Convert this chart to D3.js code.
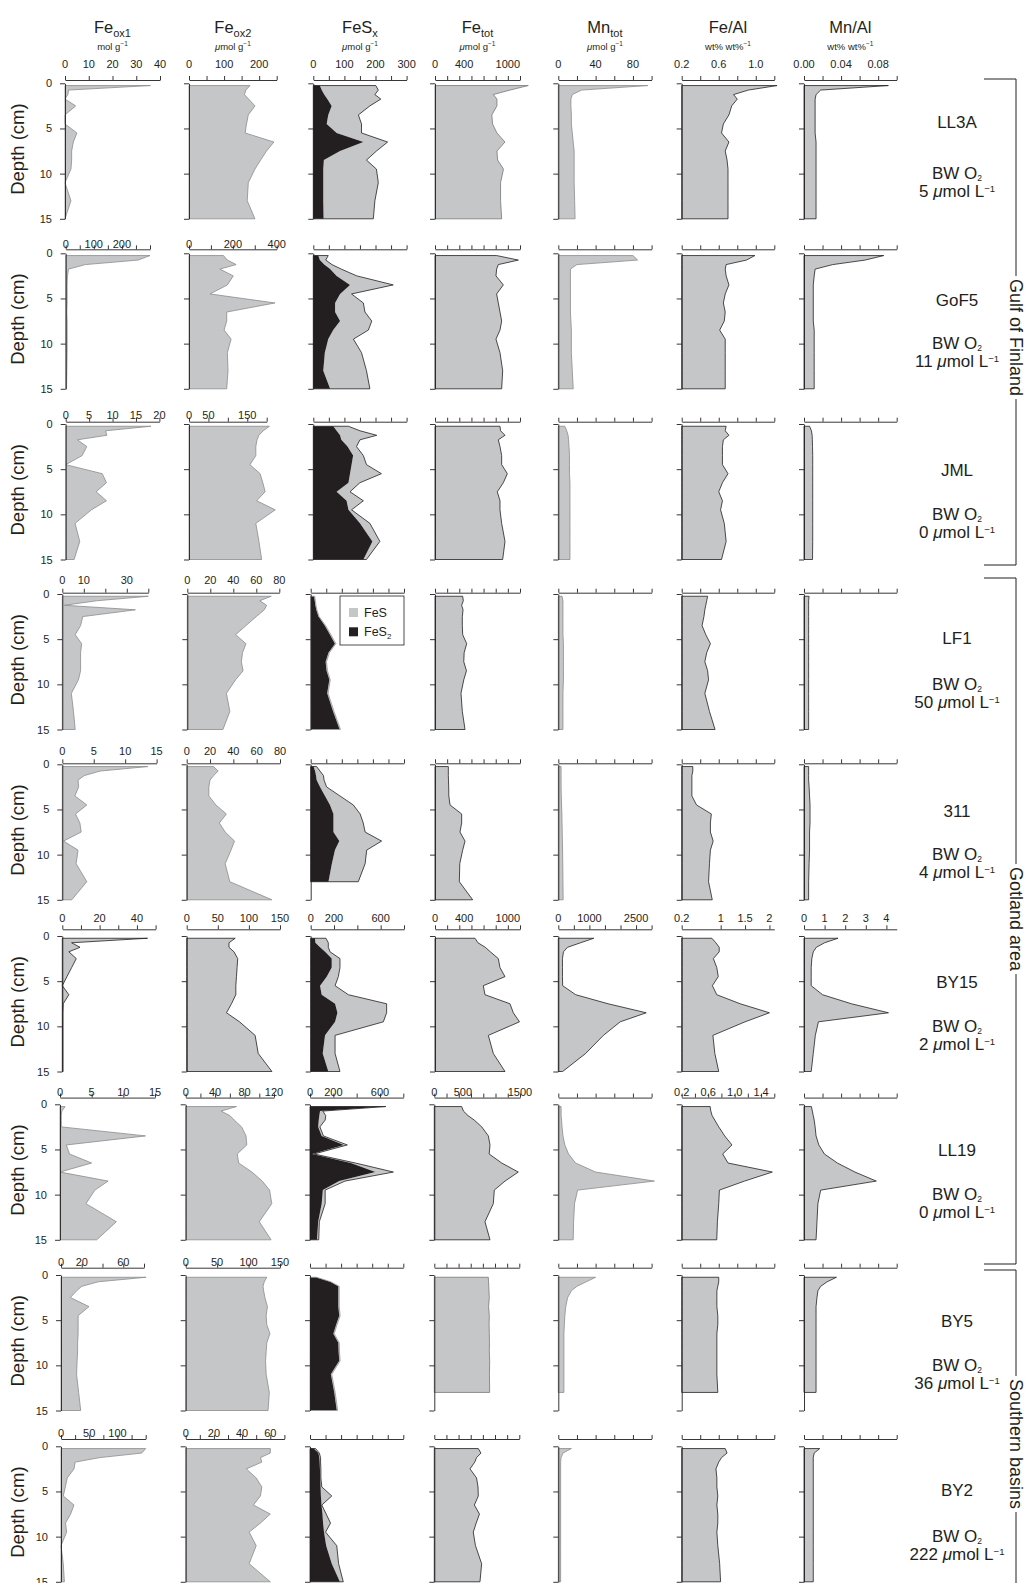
<!DOCTYPE html>
<html><head><meta charset="utf-8">
<script src="https://cdn.jsdelivr.net/npm/d3@7"></script>
<style>
body{margin:0;background:#fff}
svg{display:block}
text{font-family:"Liberation Sans",Arial,Helvetica,sans-serif;fill:#231f20}
</style>
</head><body>
<svg id="c" width="1029" height="1583"></svg>
<script>
// ---------------- DATA ----------------
const depths = [0.25,0.75,1.25,1.75,2.5,3.5,4.5,5.5,6.5,7.5,8.5,9.5,11,13,15];
const stations = ["LL3A","GoF5","JML","LF1","311","BY15","LL19","BY5","BY2"];
const bwO2 = [5,11,0,50,4,2,0,36,222];
const regionNames = ["Gulf of Finland","Gotland area","Southern basins"];
const titleMain = ["Fe","Fe","FeS","Fe","Mn","Fe/Al","Mn/Al"];
const titleSub  = ["ox1","ox2","x","tot","tot","",""];
const unitText  = ["mol g","μmol g","μmol g","μmol g","μmol g","wt% wt%","wt% wt%"];
const legendNames = [["FeS",""],["FeS","2"]];

const feOx1 = [
 [36,1.5,1.2,0,4.5,0,0,5,3.5,2.8,2.8,2.5,0,2.5,0],
 [300,258,70,10,6,5,5,5,4,5,5,5,5,4,3],
 [18.2,8.5,8.8,2.5,4.5,3.5,0,7.8,8.7,6.5,8.7,5.5,2,3,1.8],
 [40,16,1,34,9.5,8.5,6,9,8.5,8.5,8.5,7.5,4.2,5.2,6],
 [13.6,6,3.5,2.5,2.6,2,3.9,2.1,2.8,3,0.2,2.5,2.2,3.9,1.5],
 [45.7,5,9.5,3.5,7.5,5,2.5,0,3.5,0.5,0.3,0.3,0.3,0.3,0.3],
 [0.8,0.3,0.2,0.2,0.2,13.5,1,1.5,5,0,7.6,5.5,4.1,8.9,5.8],
 [82,36,20,15,9,27,16.5,16.5,16.5,16,16,15.5,15,17,19],
 [150,143,69,25,23,11,7.7,4,23,17,8,10,0,4,6]
];
const feOx2 = [
 [174,162,158,170,188,169,164,160,242,221,204,188,169,166,188],
 [157,175,215,141,202,175,96,392,172,172,160,192,175,178,172],
 [207,191,180,175,172,172,157,183,190,196,174,222,172,180,187],
 [73,63,69,67,60,51,42,51,48,47,48.5,42,34,37,31],
 [23,27,23,20,19,19,25,34,28,33,41,38,33,37,73],
 [78,68,68,76,82,81,80,79,79,72,64,85,110,115,137],
 [69,48,60,66,76,82,83,70,72,90,104,114,117,100,116],
 [129,125,123,124,126,130,128,129,134,129,128,127,128,133,131],
 [60,60,53,54,43,50,54,53,48,60,53,45,50,45,60]
];
const feS2 = [
 [21,27,35,45,59,48,43,75,161,86,34,32,32,32,33],
 [16,21,35,54,75,118,86,70,70,86,64,48,37,32,54],
 [64,75,86,90,110,128,123,118,113,75,107,113,150,190,161],
 [11,13,15,18,25,45,62,78,57,48,51,60,53,72,93],
 [9,14,17,19,30,46,62,73,73,73,92,78,68,57],
 [37,40,80,123,180,180,137,80,94,209,229,209,123,103,151],
 [640,86,80,75,70,100,290,20,350,560,250,110,100,70,60],
 [19,65,91,91,91,91,94,84,75,91,92,94,67,78,86],
 [12,27,30,31,32,33,34,35,37,40,42,45,52,70,96]
];
const feS = [
 [180,182,163,172,123,97,112,80,78,117,137,171,177,166,160],
 [32,19,25,36,65,139,37,91,96,102,113,81,118,139,128],
 [49,75,118,60,29,33,48,101,37,43,54,10,32,24,10],
 [2,2,2,2,2,3,3,3,3,3,3,3,3,3,3],
 [10,16,24,24,21,48,75,86,96,102,136,102,107,96],
 [94,111,71,43,71,71,100,129,229,442,422,414,86,106,100],
 [10,24,55,55,15,15,30,15,40,155,50,20,30,10,15],
 [2,2,3,3,3,3,3,3,3,3,3,3,3,3,3],
 [6,3,4,3,3,2,4,35,1,12,24,5,34,22,11]
];
const feTot = [
 [1280,1030,800,850,850,780,790,850,960,850,860,940,900,900,915],
 [846,1144,869,846,837,938,846,869,892,915,892,837,892,929,915],
 [892,900,961,869,892,915,915,993,938,855,892,892,915,961,929],
 [380,389,366,385,375,375,380,435,400,395,432,395,357,375,412],
 [183,183,183,185,188,190,206,366,366,343,412,380,340,334,517],
 [549,590,690,760,869,892,961,663,686,1029,1075,1160,732,800,961],
 [479,510,590,700,830,946,975,960,1180,1470,1238,1050,1033,887,975],
 [741,745,748,750,755,745,755,752,755,757,755,760,757,760],
 [604,640,580,555,490,580,600,604,550,620,575,535,565,650,627]
];
const mnTot = [
 [96,25,15,13.5,13.5,14,14,15,16,17,17,17,17,17.5,18],
 [80,85,20,13,13,13,13,13,13,13.5,14,14,14,15,16],
 [7,9,10.5,11,11.5,12,12,12,12.5,12.5,12.5,12.5,12.5,12.5,12.5],
 [4,5,5,5,5,5,5,5.5,5.5,5.5,5.5,5.5,5,5,5],
 [3,3,3,3,3,3.2,3.5,3.8,4,4.2,4.4,4.6,4.8,5,5.2],
 [1140,716,296,166,134,134,134,140,560,1600,2827,1990,1450,880,140],
 [3,3,3,3.5,4,5,7,11,18.5,40,103,20.7,17.4,16.4,16],
 [40,30,20,14,10,8,7,6.5,6,6,6,6,6,6],
 [14,5,3,2.5,2.5,2.5,2.5,2.5,2.5,2.5,2.5,2.5,2.5,2.5,2.5]
];
const feAl = [
 [1.23,0.92,0.76,0.80,0.74,0.71,0.65,0.63,0.71,0.67,0.69,0.70,0.70,0.70,0.70],
 [0.99,0.90,0.68,0.67,0.68,0.71,0.67,0.65,0.67,0.66,0.61,0.67,0.67,0.67,0.67],
 [0.68,0.67,0.71,0.65,0.64,0.64,0.64,0.70,0.64,0.60,0.64,0.62,0.66,0.68,0.63],
 [0.48,0.47,0.46,0.45,0.44,0.42,0.46,0.51,0.47,0.45,0.48,0.49,0.45,0.50,0.56],
 [0.32,0.32,0.31,0.31,0.31,0.31,0.36,0.52,0.51,0.51,0.54,0.51,0.50,0.49,0.53],
 [0.82,0.90,0.97,0.97,0.85,0.92,0.95,0.83,0.92,1.40,2.00,1.50,0.84,0.88,0.96],
 [0.63,0.64,0.66,0.70,0.76,0.85,0.96,0.82,0.90,1.57,1.15,0.77,0.76,0.74,0.73],
 [0.60,0.60,0.59,0.58,0.58,0.58,0.59,0.59,0.58,0.58,0.58,0.58,0.58,0.59],
 [0.67,0.69,0.63,0.60,0.57,0.58,0.58,0.59,0.58,0.59,0.59,0.58,0.59,0.61,0.62]
];
const mnAl = [
 [0.091,0.018,0.013,0.012,0.012,0.012,0.012,0.012,0.013,0.013,0.013,0.013,0.013,0.013,0.013],
 [0.086,0.066,0.031,0.012,0.011,0.010,0.010,0.010,0.010,0.010,0.011,0.011,0.011,0.011,0.011],
 [0.006,0.008,0.0088,0.009,0.0092,0.0094,0.0094,0.0094,0.0094,0.0094,0.0094,0.0094,0.0094,0.0094,0.0092],
 [0.0055,0.005,0.005,0.005,0.005,0.005,0.005,0.005,0.005,0.005,0.005,0.005,0.005,0.005,0.005],
 [0.005,0.005,0.005,0.005,0.0055,0.006,0.0065,0.0065,0.0065,0.006,0.006,0.006,0.0055,0.005,0.005],
 [1.65,1.0,0.6,0.45,0.38,0.35,0.35,0.35,0.9,2.3,4.1,0.7,0.55,0.45,0.35],
 [0.008,0.009,0.010,0.011,0.012,0.013,0.016,0.022,0.036,0.055,0.078,0.018,0.015,0.014,0.013],
 [0.035,0.025,0.018,0.015,0.014,0.013,0.013,0.013,0.013,0.013,0.013,0.013,0.013,0.013],
 [0.017,0.011,0.010,0.010,0.010,0.010,0.010,0.010,0.010,0.010,0.010,0.010,0.010,0.010,0.010]
];

// axis definitions per row: [min, max, ticks (count of intervals or list), tick labels]
const feOx1Axis = [
 [0,40,4,["0","10","20","30","40"]],
 [0,300,6,["0","100","200"]],
 [0,20,4,["0","5","10","15","20"]],
 [0,40,4,["0","10","30"]],
 [0,15,3,["0","5","10","15"]],
 [0,50,5,["0","20","40"]],
 [0,15,3,["0","5","10","15"]],
 [0,80,4,["0","20","60"]],
 [0,150,6,["0","50","100"]]
];
const feOx2Axis = [
 [0,250,5,["0","100","200"]],
 [0,400,4,["0","200","400"]],
 [0,200,4,["0","50","150"]],
 [0,80,4,["0","20","40","60","80"]],
 [0,80,4,["0","20","40","60","80"]],
 [0,150,3,["0","50","100","150"]],
 [0,120,6,["0","40","80","120"]],
 [0,150,3,["0","50","100","150"]],
 [0,70,7,["0","20","40","60"]]
];
const feSxAxis = [
 [0,300,6,["0","100","200","300"]],
 [0,300,6,[]],[0,300,6,[]],[0,300,6,[]],[0,300,6,[]],
 [0,800,4,["0","200","600"]],
 [0,800,4,["0","200","600"]],
 [0,300,6,[]],[0,300,6,[]]
];
const feTotAxis = [
 [0,1166.7,7,["0","400","1000"]],
 [0,1166.7,7,[]],[0,1166.7,7,[]],[0,1166.7,7,[]],[0,1166.7,7,[]],
 [0,1166.7,7,["0","400","1000"]],
 [0,1500,7,["0","500","1500"]],
 [0,1166.7,7,[]],[0,1166.7,7,[]]
];
const mnAxis = [
 [0,100,5,["0","40","80"]],
 [0,100,5,[]],[0,100,5,[]],[0,100,5,[]],[0,100,5,[]],
 [0,3000,6,["0","1000","2500"]],
 [0,100,5,[]],[0,100,5,[]],[0,100,5,[]]
];
const feAlAxis = [
 [0.2,1.2,5,["0.2","0.6","1.0"]],
 [0.2,1.2,5,[]],[0.2,1.2,5,[]],[0.2,1.2,5,[]],[0.2,1.2,5,[]],
 [0.2,2.1,[0.2,1,1.5,2],["0.2","1","1.5","2"]],
 [0.2,1.6,7,["0.2","0.6","1.0","1.4"]],
 [0.2,1.2,5,[]],[0.2,1.2,5,[]]
];
const mnAlAxis = [
 [0,0.1,5,["0.00","0.04","0.08"]],
 [0,0.1,5,[]],[0,0.1,5,[]],[0,0.1,5,[]],[0,0.1,5,[]],
 [0,4.5,[0,1,2,3,4],["0","1","2","3","4"]],
 [0,0.1,5,[]],[0,0.1,5,[]],[0,0.1,5,[]]
];

// ---------------- LAYOUT ----------------
const colX = [
 [65,189,313.3,435,558.3,681.7,804],
 [65.7,189,313.3,435,558.3,681.7,804],
 [65.7,189,313.3,435,558.3,681.7,804],
 [62.3,187.3,310.7,435,558.3,681.7,804],
 [62.3,186.7,310.7,435,558.3,681.7,804],
 [62.3,186.7,310.7,435,558.3,681.7,804],
 [60,185.7,310,434.3,558.3,681.7,804],
 [61,185.7,310,434.3,558.3,681.7,804],
 [61,185.7,310,434.3,558.3,681.7,804]
];
const colW = [
 [95,87.7,93.3,85,93.3,92.6,92.7],
 [84.3,87.7,93.3,85,93.3,92.6,92.7],
 [93.7,77.7,93.3,85,93.3,92.6,92.7],
 [86,92,93.3,85,93.3,92.6,92.7],
 [94.3,93.3,93.3,85,93.3,92.6,92.7],
 [93.3,93.3,93.3,85,93.3,92.6,92.7],
 [95,88.3,93.3,85.7,93.3,92.6,92.7],
 [83,94.3,93.3,85,93.3,92.6,92.7],
 [84.7,98.7,93.3,85,93.3,92.6,92.7]
];
const rowY = [83.3,253.3,424,594,764.3,936,1104.3,1275,1446.3];
const plotH = 135.5;
const axOff = [3.3,4,2.3,1.3,1,6.7,6.7,7.3,7.3];
const lblGap = [11.7,1.2,2.4,8.7,8.3,7.6,2,2,2];
const nameDy = [45,53,52,50,53,52,52,52,50];
const ink = "#231f20", fillGray = "#c5c6c8", lineGray = "#8c8c8c";
const labelX = 957;

const svg = d3.select("#c");
const series = [feOx1, feOx2, null, feTot, mnTot, feAl, mnAl];
const axesDef = [feOx1Axis, feOx2Axis, feSxAxis, feTotAxis, mnAxis, feAlAxis, mnAlAxis];

function strokeFor(r,c){
  if (r===5) return ink;
  if (c===0||c===1||c===4) return lineGray;
  if (c===3) return (r===0||r===7) ? "#777" : ink;
  if (c===2) return (r===3||r===7) ? "#9a9a9a" : ink;
  return ink;
}

for (let r=0;r<9;r++){
  const y = d3.scaleLinear().domain([0,15]).range([rowY[r], rowY[r]+plotH]);
  for (let c=0;c<7;c++){
    const [lo,hi,tk,labels] = axesDef[c][r];
    const x = d3.scaleLinear().domain([lo,hi]).range([colX[r][c], colX[r][c]+colW[r][c]]);
    const ticks = Array.isArray(tk) ? tk : d3.range(tk+1).map(i=>lo+(hi-lo)*i/tk);
    const g = svg.append("g");
    if (c===2){
      const pts = feS2[r].map((v,i)=>({d:depths[i], a:v, t:v+feS[r][i]}));
      g.append("path").attr("d", d3.area().y(p=>y(p.d)).x0(p=>x(p.a)).x1(p=>x(p.t))(pts))
        .attr("fill", fillGray);
      g.append("path").attr("d", d3.area().y(p=>y(p.d)).x0(x(0)).x1(p=>x(p.a))(pts))
        .attr("fill", ink);
      g.append("path").attr("d", d3.area().y(p=>y(p.d)).x0(x(0)).x1(p=>x(p.t))(pts))
        .attr("fill","none").attr("stroke", strokeFor(r,c)).attr("stroke-width",0.8);
    } else {
      const pts = series[c][r].map((v,i)=>({d:depths[i], v}));
      g.append("path").attr("d", d3.area().y(p=>y(p.d)).x0(x(lo)).x1(p=>x(p.v))(pts))
        .attr("fill", fillGray).attr("stroke", strokeFor(r,c)).attr("stroke-width",0.8);
    }
    // left (depth) axis
    const ax = g.append("g").attr("transform",`translate(${x(lo)},0)`)
      .call(d3.axisLeft(y).tickValues([0,5,10,15]).tickSize(5).tickSizeOuter(0).tickPadding(8)
        .tickFormat(c===0 ? d3.format("d") : ""));
    ax.attr("color", ink).attr("font-size", 11).attr("font-family", null);
    ax.selectAll("path,line").attr("stroke-width",0.9);
    // top (value) axis
    const ya = rowY[r]-axOff[r];
    const tx = g.append("g").attr("transform",`translate(0,${ya})`)
      .call(d3.axisTop(x).tickValues(ticks).tickSize(4).tickSizeOuter(0).tickFormat(""));
    tx.attr("color", ink);
    tx.selectAll("path,line").attr("stroke-width",0.9);
    labels.forEach(s=>{
      g.append("text").attr("x", x(+s)).attr("y", ya-lblGap[r])
        .attr("text-anchor","middle").style("font-size","11px").text(s);
    });
    // column header (first row)
    if (r===0){
      const cx = x(lo)+colW[0][c]/2;
      const t = svg.append("text").attr("x",cx).attr("y",32.5).attr("text-anchor","middle")
        .style("font-size","16.5px").text(titleMain[c]);
      if (titleSub[c]) t.append("tspan").attr("dy",4).style("font-size","11px").text(titleSub[c]);
      const u = svg.append("text").attr("x",cx).attr("y",49.5).attr("text-anchor","middle")
        .style("font-size","9.5px");
      const ut = unitText[c];
      if (ut.startsWith("μ")){
        u.append("tspan").style("font-style","italic").text("μ");
        u.append("tspan").text(ut.slice(1));
      } else u.append("tspan").text(ut);
      u.append("tspan").attr("dy",-3.5).style("font-size","6.5px").text("−1");
    }
    // legend in LF1 FeSx panel
    if (r===3 && c===2){
      const lg = svg.append("g");
      lg.append("rect").attr("x",340).attr("y",596).attr("width",64).attr("height",49)
        .attr("fill","#fff").attr("stroke",ink).attr("stroke-width",0.8);
      legendNames.forEach((nm,i)=>{
        lg.append("rect").attr("x",349).attr("y",608+i*19.3).attr("width",9).attr("height",9)
          .attr("fill", i===0 ? fillGray : ink);
        const t = lg.append("text").attr("x",364).attr("y",617+i*19.3).style("font-size","12.5px").text(nm[0]);
        if (nm[1]) t.append("tspan").attr("dy",3).style("font-size","8px").text(nm[1]);
      });
    }
  }
  // depth label
  svg.append("text").attr("transform",`translate(24,${rowY[r]+plotH/2-2}) rotate(-90)`)
    .attr("text-anchor","middle").style("font-size","18.5px").text("Depth (cm)");
  // station labels
  svg.append("text").attr("x",labelX).attr("y",rowY[r]+nameDy[r]).attr("text-anchor","middle")
    .style("font-size","17px").text(stations[r]);
  const bw = svg.append("text").attr("x",labelX).attr("y",rowY[r]+95.5).attr("text-anchor","middle")
    .style("font-size","17px").text("BW O");
  bw.append("tspan").attr("dy",2).style("font-size","8.5px").text("2");
  const um = svg.append("text").attr("x",labelX).attr("y",rowY[r]+113.5).attr("text-anchor","middle")
    .style("font-size","17px");
  um.append("tspan").text(bwO2[r]+" ");
  um.append("tspan").style("font-style","italic").text("μ");
  um.append("tspan").text("mol L");
  um.append("tspan").attr("dy",-4.5).style("font-size","9.5px").text("−1");
}

// region brackets
const bx = 1016, capX = 984;
const spans = [[79,565,true],[578,1264,true],[1270,1590,false]];
const centers = [337.5,919,1444];
regionNames.forEach((nm,i)=>{
  const [y1,y2,cap] = spans[i];
  const t = svg.append("text").attr("transform",`translate(${bx},${centers[i]}) rotate(90)`)
    .attr("text-anchor","middle").attr("dominant-baseline","central")
    .style("font-size","18px").text(nm);
  const half = t.node().getComputedTextLength()/2 + 3;
  const g = svg.append("g").attr("stroke",ink).attr("stroke-width",1).attr("fill","none");
  g.append("path").attr("d",`M${capX},${y1}H${bx}V${centers[i]-half}`);
  g.append("path").attr("d",`M${bx},${centers[i]+half}V${y2}` + (cap ? `H${capX}` : ""));
});
</script>
</body></html>
